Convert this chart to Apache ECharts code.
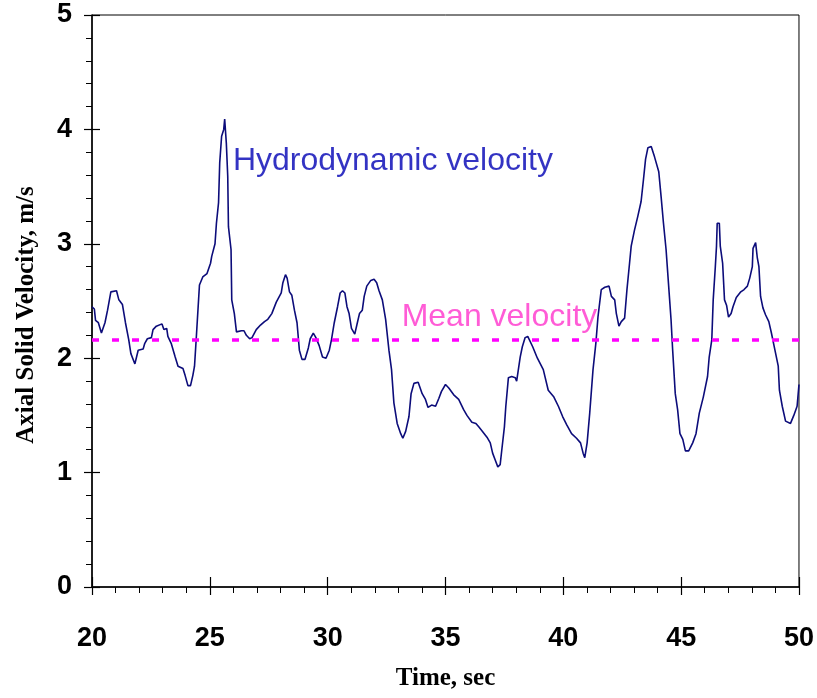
<!DOCTYPE html>
<html>
<head>
<meta charset="utf-8">
<title>Axial Solid Velocity</title>
<script src="https://cdn.jsdelivr.net/npm/echarts@6/dist/echarts.min.js"></script>
<style>
  html, body { margin: 0; padding: 0; background: #fff; }
  #main { width: 817px; height: 698px; }
</style>
</head>
<body>
<div id="main"></div>
<script>
// time axis values (sec)
var timeSec = [
  20.00, 20.10, 20.15, 20.27, 20.40, 20.55, 20.66, 20.80, 21.04, 21.14, 21.29, 21.42, 21.56, 21.65, 21.82, 21.96,
  22.03, 22.17, 22.24, 22.35, 22.52, 22.59, 22.73, 22.97, 23.05, 23.17, 23.22, 23.36, 23.53, 23.65, 23.86, 23.95,
  24.07, 24.18, 24.28, 24.35, 24.42, 24.56, 24.70, 24.88, 25.03, 25.08, 25.22, 25.28, 25.37, 25.42, 25.50, 25.59,
  25.63, 25.70, 25.76, 25.79, 25.90, 25.93, 26.04, 26.13, 26.34, 26.45, 26.55, 26.69, 26.79, 26.97, 27.15, 27.32,
  27.46, 27.63, 27.82, 28.03, 28.10, 28.21, 28.28, 28.38, 28.48, 28.59, 28.70, 28.80, 28.91, 29.04, 29.18, 29.26,
  29.39, 29.50, 29.64, 29.78, 29.93, 30.07, 30.16, 30.28, 30.42, 30.53, 30.63, 30.73, 30.82, 30.91, 31.01, 31.15,
  31.26, 31.35, 31.47, 31.55, 31.66, 31.83, 31.97, 32.08, 32.18, 32.32, 32.46, 32.60, 32.71, 32.81, 32.95, 33.10,
  33.19, 33.31, 33.45, 33.54, 33.66, 33.84, 34.01, 34.15, 34.26, 34.41, 34.58, 34.72, 34.83, 35.00, 35.14, 35.35,
  35.56, 35.77, 35.91, 36.12, 36.29, 36.41, 36.57, 36.76, 36.90, 37.00, 37.11, 37.22, 37.32, 37.39, 37.50, 37.56,
  37.67, 37.81, 37.96, 38.02, 38.07, 38.17, 38.26, 38.38, 38.49, 38.56, 38.70, 38.90, 39.15, 39.36, 39.60, 39.79,
  39.97, 40.14, 40.35, 40.56, 40.73, 40.84, 40.91, 41.01, 41.12, 41.26, 41.38, 41.47, 41.61, 41.76, 41.94, 42.04,
  42.18, 42.25, 42.36, 42.46, 42.60, 42.70, 42.81, 42.88, 43.02, 43.16, 43.30, 43.40, 43.49, 43.59, 43.73, 43.87,
  44.05, 44.15, 44.25, 44.36, 44.47, 44.57, 44.64, 44.75, 44.85, 44.95, 45.07, 45.18, 45.32, 45.49, 45.63, 45.77,
  45.94, 46.12, 46.19, 46.30, 46.36, 46.45, 46.50, 46.53, 46.62, 46.66, 46.76, 46.84, 46.93, 47.01, 47.12, 47.20,
  47.34, 47.53, 47.67, 47.81, 47.91, 48.02, 48.05, 48.16, 48.23, 48.30, 48.37, 48.47, 48.58, 48.72, 48.83, 48.98,
  49.12, 49.17, 49.29, 49.43, 49.64, 49.78, 49.92, 50.00
];

// hydrodynamic (axial solid) velocity, m/s
var velocity = [
  2.45, 2.43, 2.33, 2.31, 2.22, 2.31, 2.42, 2.58, 2.59, 2.51, 2.47, 2.31, 2.16, 2.04, 1.95, 2.07,
  2.08, 2.08, 2.13, 2.17, 2.18, 2.25, 2.28, 2.30, 2.25, 2.26, 2.19, 2.13, 2.01, 1.93, 1.91, 1.85,
  1.76, 1.76, 1.85, 1.93, 2.16, 2.64, 2.71, 2.74, 2.83, 2.89, 3.00, 3.18, 3.36, 3.71, 3.94, 4.00,
  4.09, 3.88, 3.59, 3.15, 2.95, 2.51, 2.39, 2.23, 2.24, 2.24, 2.20, 2.17, 2.18, 2.25, 2.29, 2.32,
  2.34, 2.39, 2.49, 2.57, 2.66, 2.73, 2.70, 2.58, 2.55, 2.42, 2.31, 2.07, 1.99, 1.99, 2.09, 2.17,
  2.22, 2.18, 2.11, 2.01, 2.00, 2.07, 2.16, 2.31, 2.45, 2.57, 2.59, 2.57, 2.45, 2.39, 2.26, 2.21,
  2.31, 2.39, 2.42, 2.54, 2.63, 2.68, 2.69, 2.66, 2.59, 2.51, 2.34, 2.07, 1.90, 1.61, 1.43, 1.34,
  1.30, 1.36, 1.49, 1.69, 1.78, 1.79, 1.69, 1.64, 1.57, 1.59, 1.58, 1.65, 1.71, 1.77, 1.74, 1.68,
  1.64, 1.55, 1.50, 1.44, 1.43, 1.40, 1.36, 1.31, 1.26, 1.17, 1.11, 1.05, 1.07, 1.20, 1.40, 1.58,
  1.83, 1.84, 1.83, 1.80, 1.87, 2.01, 2.10, 2.18, 2.19, 2.18, 2.10, 2.00, 1.90, 1.72, 1.66, 1.58,
  1.49, 1.42, 1.34, 1.30, 1.26, 1.17, 1.13, 1.26, 1.52, 1.90, 2.13, 2.36, 2.60, 2.62, 2.63, 2.54,
  2.51, 2.39, 2.28, 2.32, 2.35, 2.60, 2.83, 2.98, 3.12, 3.24, 3.37, 3.56, 3.74, 3.84, 3.85, 3.76,
  3.63, 3.41, 3.18, 2.95, 2.63, 2.34, 2.07, 1.69, 1.55, 1.34, 1.29, 1.19, 1.19, 1.26, 1.34, 1.52,
  1.66, 1.84, 2.01, 2.16, 2.51, 2.80, 2.98, 3.18, 3.18, 2.98, 2.83, 2.51, 2.46, 2.36, 2.39, 2.45,
  2.53, 2.58, 2.60, 2.63, 2.70, 2.80, 2.96, 3.01, 2.88, 2.80, 2.54, 2.44, 2.38, 2.32, 2.22, 2.07,
  1.93, 1.72, 1.58, 1.45, 1.43, 1.50, 1.58, 1.77
];

var meanVelocity = 2.16;
var timeRange = [20, 50];

// where the two text annotations sit, in data units
var hydroLabelAt = [26.0, 3.72];
var meanLabelAt = [33.16, 2.35];

var velData = timeSec.map(function (t, i) { return [t, velocity[i]]; });
var meanData = timeRange.map(function (t) { return [t, meanVelocity]; });

var tickFont = { color: '#000', fontSize: 27, fontWeight: 'bold', fontFamily: 'Liberation Sans Narrow, Arial Narrow, sans-serif' };
var titleFont = { color: '#000', fontSize: 25, fontWeight: 'bold', fontFamily: 'Liberation Serif, Times New Roman, serif' };

var myChart = echarts.init(document.getElementById('main'));
var option = {
    backgroundColor: '#fff',
    animation: false,
    grid: {
        left: 92, right: 15, top: 15, bottom: 111,
        show: true, borderColor: '#000', borderWidth: 1, backgroundColor: '#fff'
    },
    xAxis: [
        {
            type: 'value', min: 20, max: 50, interval: 5, position: 'bottom',
            name: 'Time, sec', nameLocation: 'middle', nameGap: 79, nameTextStyle: titleFont,
            axisLine: { show: true, lineStyle: { color: '#000', width: 1.5 } },
            axisTick: { show: true, inside: false, length: 8, lineStyle: { color: '#000', width: 1.2 } },
            minorTick: { show: true, splitNumber: 5, length: 6, lineStyle: { color: '#000', width: 1 } },
            axisLabel: Object.assign({ margin: 38 }, tickFont),
            splitLine: { show: false }
        },
        {
            type: 'value', min: 20, max: 50, interval: 5, position: 'bottom',
            axisLine: { show: false },
            axisTick: { show: true, inside: true, length: 10, lineStyle: { color: '#000', width: 1.2 } },
            axisLabel: { show: false },
            splitLine: { show: false }
        }
    ],
    yAxis: [
        {
            type: 'value', min: 0, max: 5, interval: 1, position: 'left',
            name: 'Axial Solid Velocity, m/s', nameLocation: 'middle', nameGap: 53,
            nameTextStyle: Object.assign({ padding: [0, 28, 0, 0] }, titleFont),
            axisLine: { show: true, lineStyle: { color: '#000', width: 1.5 } },
            axisTick: { show: true, inside: false, length: 8, lineStyle: { color: '#000', width: 1.2 } },
            minorTick: { show: true, splitNumber: 5, length: 6, lineStyle: { color: '#000', width: 1 } },
            axisLabel: Object.assign({ margin: 20 }, tickFont),
            splitLine: { show: false }
        },
        {
            type: 'value', min: 0, max: 5, interval: 1, position: 'left',
            axisLine: { show: false },
            axisTick: { show: true, inside: true, length: 8, lineStyle: { color: '#000', width: 1.2 } },
            axisLabel: { show: false },
            splitLine: { show: false }
        }
    ],
    series: [
        {
            name: 'Hydrodynamic velocity',
            type: 'line',
            data: velData,
            showSymbol: false,
            smooth: false,
            z: 3,
            lineStyle: { color: '#0c0c7a', width: 1.6 }
        },
        {
            name: 'Mean velocity',
            type: 'line',
            data: meanData,
            showSymbol: false,
            z: 4,
            lineStyle: { color: '#ff00ff', width: 3.5, type: [7, 13] }
        },
        {
            type: 'scatter',
            data: [hydroLabelAt],
            symbolSize: 1,
            itemStyle: { color: 'transparent' },
            silent: true,
            z: 5,
            label: {
                show: true, position: [0, 0], align: 'left', verticalAlign: 'middle',
                formatter: 'Hydrodynamic velocity',
                color: '#0000b4', fontSize: 32, fontFamily: 'Liberation Sans, Arial, sans-serif'
            }
        },
        {
            type: 'scatter',
            data: [meanLabelAt],
            symbolSize: 1,
            itemStyle: { color: 'transparent' },
            silent: true,
            z: 5,
            label: {
                show: true, position: [0, 0], align: 'left', verticalAlign: 'middle',
                formatter: 'Mean velocity',
                color: '#ff33cc', fontSize: 32, fontFamily: 'Liberation Sans, Arial, sans-serif'
            }
        }
    ]
};
myChart.setOption(option);
</script>
</body>
</html>
